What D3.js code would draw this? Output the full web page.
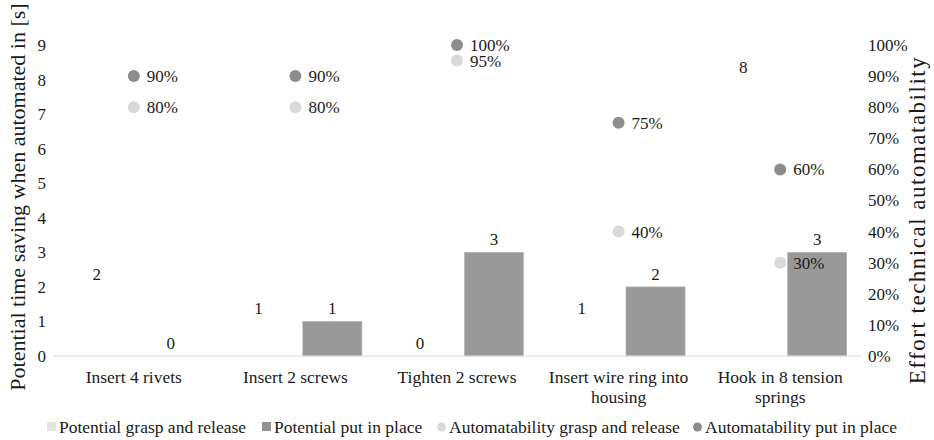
<!DOCTYPE html>
<html>
<head>
<meta charset="utf-8">
<script src="https://cdn.jsdelivr.net/npm/d3@7"></script>
<style>
  body { margin: 0; background: #fff; }
  text { font-family: "Liberation Serif", "Times New Roman", serif; fill: #1a1a1a; }
</style>
</head>
<body>
<svg width="934" height="440"></svg>
<script>
var categories = [["Insert 4 rivets"], ["Insert 2 screws"], ["Tighten 2 screws"], ["Insert wire ring into", "housing"], ["Hook in 8 tension", "springs"]];
var graspTime = [2, 1, 0, 1, 8];
var placeTime = [0, 1, 3, 2, 3];
var graspAuto = [0.80, 0.80, 0.95, 0.40, 0.30];
var placeAuto = [0.90, 0.90, 1.00, 0.75, 0.60];
var leftTicks = [0, 1, 2, 3, 4, 5, 6, 7, 8, 9];
var rightTicks = [0, 0.1, 0.2, 0.3, 0.4, 0.5, 0.6, 0.7, 0.8, 0.9, 1.0];
var seriesNames = ["Potential grasp and release", "Potential put in place", "Automatability grasp and release", "Automatability put in place"];

var svg = d3.select("svg");
var plotLeft = 53, plotRight = 861, plotTop = 45, plotBottom = 356;

var x0 = d3.scaleBand().domain(d3.range(categories.length)).range([plotLeft, plotRight]).paddingInner(0.177).paddingOuter(0.0885);
var x1 = d3.scaleBand().domain([0, 1]).range([0, x0.bandwidth()]).paddingInner(0.2);
var y = d3.scaleLinear().domain([0, 9]).range([plotBottom, plotTop]);
var y2 = d3.scaleLinear().domain([0, 1]).range([plotBottom, plotTop]);

var barColors = ["#ffffff", "#999999"];
var dotColors = ["#d9d9d9", "#8c8c8c"];

// left axis labels
svg.append("g").selectAll("text").data(leftTicks).enter().append("text")
  .attr("x", 46).attr("y", d => y(d)).attr("dy", "0.35em")
  .attr("text-anchor", "end").style("font-size", "17px").text(d => d);

// right axis labels
svg.append("g").selectAll("text").data(rightTicks).enter().append("text")
  .attr("x", 868).attr("y", d => y2(d)).attr("dy", "0.35em")
  .style("font-size", "17px").text(d => Math.round(d * 100) + "%");

// bars
var bars = [graspTime, placeTime];
bars.forEach(function(vals, s) {
  var g = svg.append("g");
  g.selectAll("rect").data(vals).enter().append("rect")
    .attr("x", (d, i) => x0(i) + x1(s))
    .attr("y", d => y(d))
    .attr("width", x1.bandwidth())
    .attr("height", d => plotBottom - y(d))
    .attr("fill", barColors[s])
    .attr("stroke", s == 1 ? "#b3b3b3" : "none")
    .attr("stroke-width", 0.6);
  g.selectAll("text").data(vals).enter().append("text")
    .attr("x", (d, i) => x0(i) + x1(s) + x1.bandwidth() / 2)
    .attr("y", d => y(d) - 7)
    .attr("text-anchor", "middle").style("font-size", "17px")
    .text(d => d);
});

// baseline
svg.append("line").attr("x1", plotLeft).attr("x2", plotRight).attr("y1", plotBottom).attr("y2", plotBottom)
  .attr("stroke", "#dcdcdc").attr("stroke-width", 1);

// dots
var dots = [graspAuto, placeAuto];
dots.forEach(function(vals, s) {
  var g = svg.append("g");
  g.selectAll("circle").data(vals).enter().append("circle")
    .attr("cx", (d, i) => x0(i) + x0.bandwidth() / 2)
    .attr("cy", d => y2(d))
    .attr("r", 6)
    .attr("fill", dotColors[s]);
  g.selectAll("text").data(vals).enter().append("text")
    .attr("x", (d, i) => x0(i) + x0.bandwidth() / 2 + 13)
    .attr("y", d => y2(d)).attr("dy", "0.35em")
    .style("font-size", "17px")
    .text(d => Math.round(d * 100) + "%");
});

// category labels
var cat = svg.append("g").selectAll("text").data(categories).enter().append("text")
  .attr("x", (d, i) => x0(i) + x0.bandwidth() / 2)
  .attr("y", 383)
  .attr("text-anchor", "middle").style("font-size", "17.5px");
cat.selectAll("tspan").data(d => d).enter().append("tspan")
  .attr("x", function() { return d3.select(this.parentNode).attr("x"); })
  .attr("dy", (d, i) => i == 0 ? 0 : 20)
  .text(d => d);

// axis titles
svg.append("text").attr("transform", "translate(25,197) rotate(-90)")
  .attr("text-anchor", "middle").style("font-size", "22px")
  .text("Potential time saving when automated in [s]");
svg.append("text").attr("transform", "translate(925,220) rotate(-90)")
  .attr("text-anchor", "middle").style("font-size", "23px").style("letter-spacing", "1.5px")
  .text("Effort technical automatability");

// legend
var legX = [47, 262, 437, 693];
var leg = svg.append("g").selectAll("g").data(seriesNames).enter().append("g")
  .attr("transform", (d, i) => "translate(" + legX[i] + ",427)");
leg.each(function(d, i) {
  var g = d3.select(this);
  if (i < 2) {
    g.append("rect").attr("x", 0).attr("y", -5).attr("width", 9).attr("height", 9)
      .attr("fill", i == 0 ? "#e3e3e3" : "#929292");
  } else {
    g.append("circle").attr("cx", 4.5).attr("cy", 0).attr("r", 4.5)
      .attr("fill", dotColors[i - 2]);
  }
  g.append("text").attr("x", 12).attr("y", 0).attr("dy", "0.35em")
    .style("font-size", "17.5px").text(d);
});
</script>
</body>
</html>
